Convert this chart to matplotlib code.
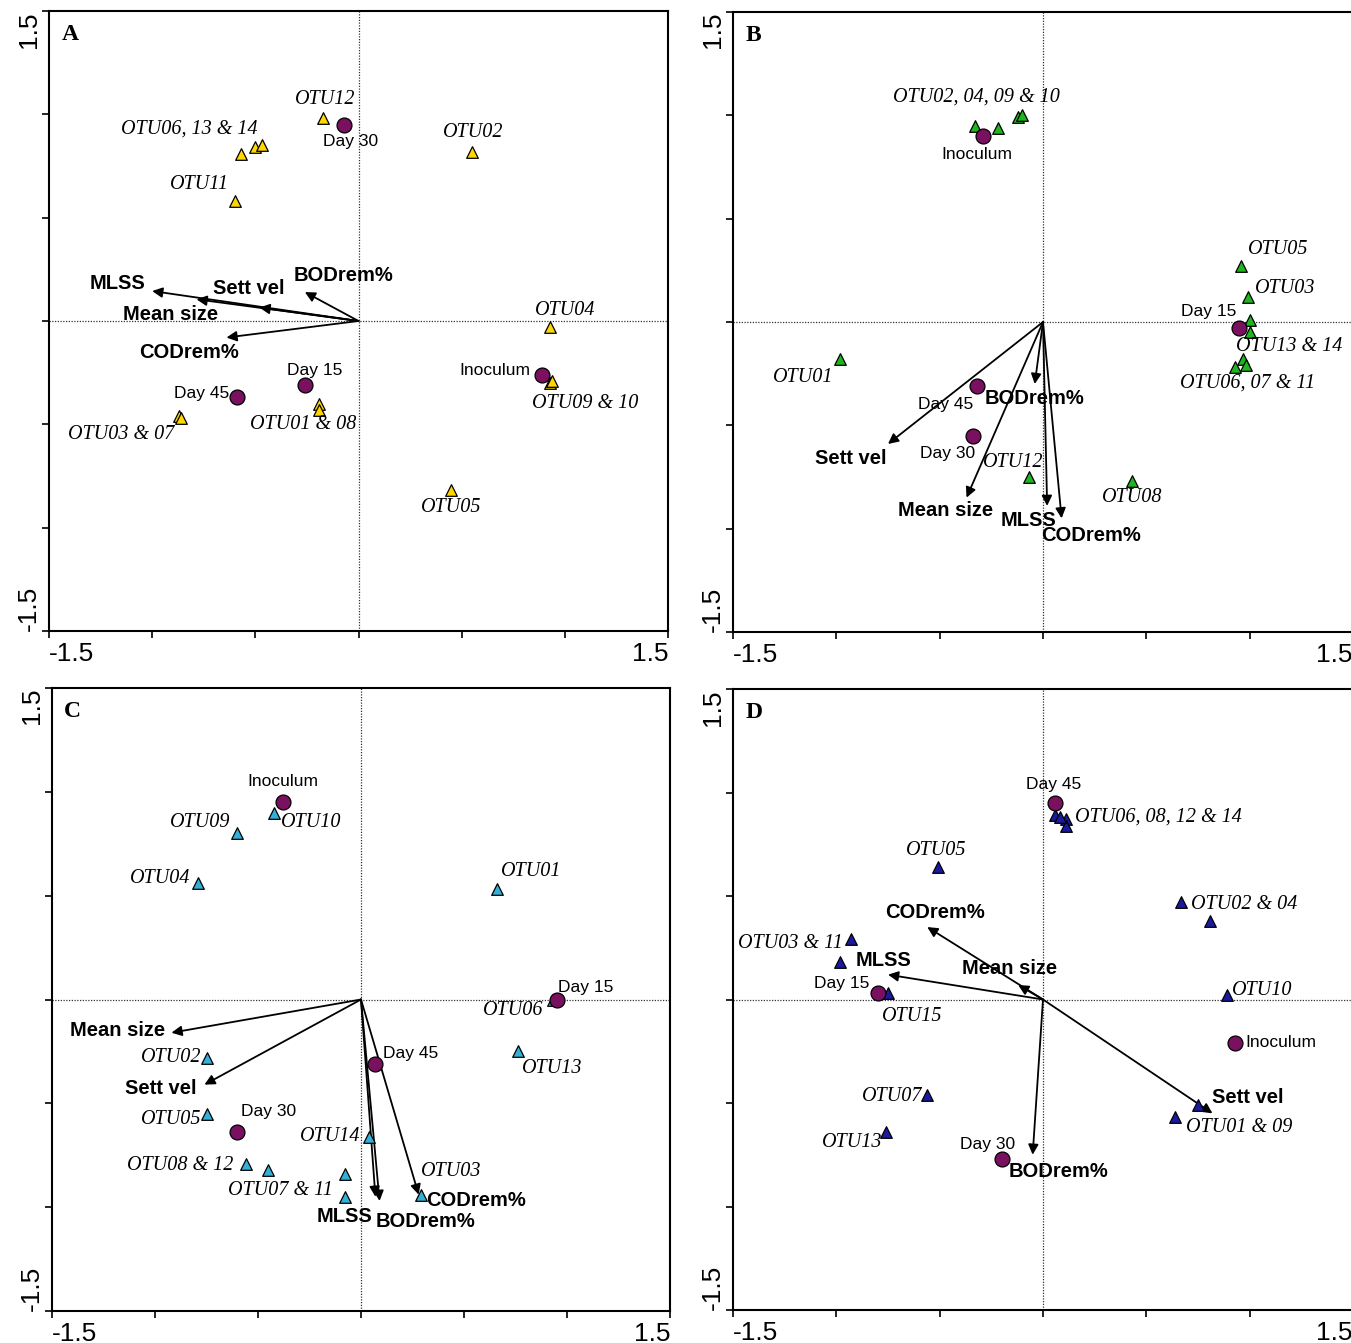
import numpy as np
import matplotlib
matplotlib.use("Agg")
import matplotlib.pyplot as plt

plt.rcParams['font.family'] = ['Liberation Sans', 'DejaVu Sans']

# ---- panel A ----
A_otu_x = [-0.17, -0.57, -0.50, -0.47, 0.55, -0.60, 0.93, 0.93, 0.94, -0.19, -0.19, -0.87, -0.86, 0.45]
A_otu_y = [0.98, 0.81, 0.84, 0.85, 0.82, 0.58, -0.03, -0.30, -0.29, -0.40, -0.43, -0.46, -0.47, -0.82]
A_site_x = [-0.07, 0.89, -0.26, -0.59]
A_site_y = [0.95, -0.26, -0.31, -0.37]
A_env = ['MLSS', 'Mean size', 'Sett vel', 'BODrem%', 'CODrem%']
A_env_x = [-1.00, -0.785, -0.48, -0.26, -0.64]
A_env_y = [0.145, 0.105, 0.065, 0.14, -0.08]

# ---- panel B ----
B_otu_x = [-0.33, -0.22, -0.12, -0.10, 0.96, 0.99, 1.00, 1.00, 0.97, 0.93, 0.98, -0.98, -0.07, 0.43]
B_otu_y = [0.95, 0.94, 0.99, 1.00, 0.27, 0.12, 0.01, -0.05, -0.18, -0.22, -0.21, -0.18, -0.75, -0.77]
B_site_x = [-0.29, 0.95, -0.32, -0.34]
B_site_y = [0.90, -0.03, -0.31, -0.55]
B_env = ['Sett vel', 'Mean size', 'BODrem%', 'MLSS', 'CODrem%']
B_env_x = [-0.75, -0.37, -0.04, 0.02, 0.09]
B_env_y = [-0.59, -0.85, -0.30, -0.89, -0.95]

# ---- panel C ----
C_otu_x = [-0.42, -0.60, -0.79, 0.66, 0.93, 0.76, -0.75, -0.75, 0.04, -0.56, -0.45, -0.08, -0.08, 0.29]
C_otu_y = [0.90, 0.80, 0.56, 0.53, 0.00, -0.25, -0.28, -0.55, -0.66, -0.79, -0.82, -0.84, -0.95, -0.94]
C_site_x = [-0.38, 0.95, 0.07, -0.60]
C_site_y = [0.95, 0.00, -0.31, -0.64]
C_env = ['Mean size', 'Sett vel', 'MLSS', 'BODrem%', 'CODrem%']
C_env_x = [-0.92, -0.76, 0.07, 0.09, 0.28]
C_env_y = [-0.16, -0.41, -0.95, -0.97, -0.94]

# ---- panel D ----
D_otu_x = [0.06, 0.11, 0.11, 0.08, -0.51, 0.67, 0.81, -0.93, -0.98, -0.75, 0.89, -0.56, -0.76, 0.64, 0.75]
D_otu_y = [0.89, 0.87, 0.84, 0.88, 0.64, 0.47, 0.38, 0.29, 0.18, 0.03, 0.02, -0.46, -0.64, -0.57, -0.51]
D_site_x = [0.06, -0.80, 0.93, -0.20]
D_site_y = [0.95, 0.03, -0.21, -0.77]
D_env = ['CODrem%', 'MLSS', 'Mean size', 'Sett vel', 'BODrem%']
D_env_x = [-0.56, -0.75, -0.12, 0.82, -0.05]
D_env_y = [0.35, 0.12, 0.07, -0.55, -0.75]

# label placement (layout only): (text, x, y)
A_otu_lab = [('OTU12', -0.16, 1.07), ('OTU06, 13 & 14', -0.82, 0.93), ('OTU02', 0.555, 0.91),
             ('OTU11', -0.77, 0.66), ('OTU04', 1.00, 0.05), ('OTU09 & 10', 1.10, -0.40),
             ('OTU01 & 08', -0.27, -0.50), ('OTU03 & 07', -1.15, -0.55), ('OTU05', 0.45, -0.90)]
A_site_lab = [('Day 30', -0.04, 0.87), ('Inoculum', 0.66, -0.24), ('Day 15', -0.21, -0.24), ('Day 45', -0.76, -0.35)]
A_env_lab = [(-1.17, 0.18), (-0.91, 0.03), (-0.53, 0.155), (-0.075, 0.22), (-0.82, -0.15)]

B_otu_lab = [('OTU02, 04, 09 & 10', -0.32, 1.09), ('OTU05', 1.14, 0.35), ('OTU03', 1.17, 0.16),
             ('OTU13 & 14', 1.19, -0.12), ('OTU06, 07 & 11', 0.99, -0.295), ('OTU01', -1.16, -0.27),
             ('OTU12', -0.145, -0.68), ('OTU08', 0.43, -0.85)]
B_site_lab = [('Inoculum', -0.32, 0.81), ('Day 15', 0.80, 0.05), ('Day 45', -0.47, -0.40), ('Day 30', -0.46, -0.635)]
B_env_lab = [(-0.93, -0.66), (-0.47, -0.91), (-0.04, -0.37), (-0.07, -0.96), (0.23, -1.035)]

C_otu_lab = [('OTU09', -0.78, 0.85), ('OTU10', -0.24, 0.85), ('OTU04', -0.975, 0.585), ('OTU01', 0.825, 0.615),
             ('OTU06', 0.74, -0.055), ('OTU13', 0.93, -0.33), ('OTU02', -0.92, -0.28), ('OTU05', -0.92, -0.58),
             ('OTU14', -0.15, -0.66), ('OTU08 & 12', -0.88, -0.80), ('OTU03', 0.44, -0.83), ('OTU07 & 11', -0.39, -0.92)]
C_site_lab = [('Inoculum', -0.38, 1.05), ('Day 15', 1.09, 0.06), ('Day 45', 0.24, -0.26), ('Day 30', -0.45, -0.54)]
C_env_lab = [(-1.18, -0.15), (-0.97, -0.43), (-0.08, -1.045), (0.315, -1.07), (0.56, -0.97)]

D_otu_lab = [('OTU06, 08, 12 & 14', 0.56, 0.88), ('OTU05', -0.515, 0.72), ('OTU02 & 04', 0.975, 0.46),
             ('OTU03 & 11', -1.22, 0.27), ('OTU10', 1.06, 0.045), ('OTU15', -0.635, -0.08),
             ('OTU07', -0.73, -0.47), ('OTU01 & 09', 0.95, -0.62), ('OTU13', -0.925, -0.69)]
D_site_lab = [('Day 45', 0.05, 1.04), ('Day 15', -0.975, 0.075), ('Inoculum', 1.15, -0.21), ('Day 30', -0.27, -0.70)]
D_env_lab = [(-0.525, 0.42), (-0.77, 0.19), (-0.16, 0.15), (0.99, -0.475), (0.075, -0.83)]

W, H = 1351, 1343
fig = plt.figure(figsize=(W / 100, H / 100), dpi=100)

def px_axes(l, r, t, b):
    return [l / W, 1 - b / H, (r - l) / W, (b - t) / H]

panels = [
    ('A', px_axes(49, 668, 11, 631), '#ffd700', A_otu_x, A_otu_y, A_site_x, A_site_y, A_env, A_env_x, A_env_y,
     A_otu_lab, A_site_lab, A_env_lab),
    ('B', px_axes(733, 1353, 12, 632), '#1fb51f', B_otu_x, B_otu_y, B_site_x, B_site_y, B_env, B_env_x, B_env_y,
     B_otu_lab, B_site_lab, B_env_lab),
    ('C', px_axes(52, 670, 688, 1311), '#33b0d6', C_otu_x, C_otu_y, C_site_x, C_site_y, C_env, C_env_x, C_env_y,
     C_otu_lab, C_site_lab, C_env_lab),
    ('D', px_axes(733, 1353, 689, 1310), '#1a1aa0', D_otu_x, D_otu_y, D_site_x, D_site_y, D_env, D_env_x, D_env_y,
     D_otu_lab, D_site_lab, D_env_lab),
]

serif = ['Liberation Serif', 'DejaVu Serif']

for (letter, pos, col, ox, oy, sx, sy, env, ex, ey, olab, slab, elab) in panels:
    ax = fig.add_axes(pos)
    ax.set_xlim(-1.5, 1.5)
    ax.set_ylim(-1.5, 1.5)
    ax.axhline(0, color='#333333', lw=0.9, ls=(0, (1, 1.2)), zorder=1)
    ax.axvline(0, color='#333333', lw=0.9, ls=(0, (1, 1.2)), zorder=1)

    # env arrows
    for i in range(len(env)):
        ax.annotate('', xy=(ex[i], ey[i]), xytext=(0, 0),
                    arrowprops=dict(arrowstyle='-|>', color='black', lw=1.3, mutation_scale=15,
                                    shrinkA=0, shrinkB=0), zorder=3)
        ax.text(elab[i][0], elab[i][1], env[i], fontsize=14.5, fontweight='bold',
                ha='center', va='center', zorder=5)

    ax.scatter(ox, oy, marker='^', s=70, c=col, edgecolors='black', linewidths=0.9, zorder=4)
    ax.scatter(sx, sy, marker='o', s=115, c='#7a1060', edgecolors='black', linewidths=0.9, zorder=4)

    for t, x, y in olab:
        ax.text(x, y, t, fontsize=14.5, style='italic', family=serif, ha='center', va='center', zorder=5)
    for t, x, y in slab:
        ax.text(x, y, t, fontsize=12.5, ha='center', va='center', zorder=5)

    ax.text(0.02, 0.962, letter, transform=ax.transAxes, fontsize=17, fontweight='bold',
            family=serif, ha='left', va='center')

    ticks = [-1.5, -1.0, -0.5, 0, 0.5, 1.0, 1.5]
    ax.set_xticks(ticks)
    ax.set_yticks(ticks)
    ax.set_xticklabels(['-1.5', '', '', '', '', '', '1.5'], fontsize=19)
    ax.set_yticklabels(['-1.5', '', '', '', '', '', '1.5'], fontsize=19, rotation=90)
    xl = ax.get_xticklabels()
    xl[0].set_ha('left')
    xl[-1].set_ha('right')
    yl = ax.get_yticklabels()
    yl[0].set_va('bottom')
    yl[-1].set_va('top')
    ax.tick_params(direction='out', length=5, width=1.2)
    ax.tick_params(axis='x', pad=3)
    ax.tick_params(axis='y', pad=1)
    for s in ax.spines.values():
        s.set_linewidth(1.5)

fig.savefig('out.png', dpi=100)
